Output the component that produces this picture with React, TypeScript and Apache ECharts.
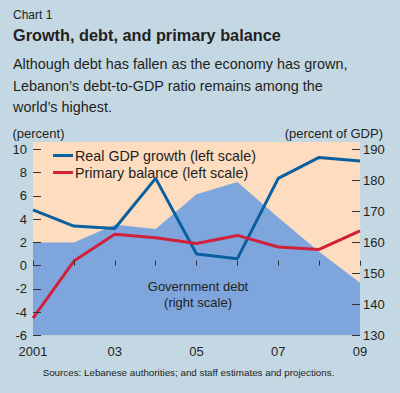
import React, { useEffect, useRef } from "react";
import * as echarts from "echarts";

const years = ["2001", "2002", "2003", "2004", "2005", "2006", "2007", "2008", "2009"];
const xLabels = ["2001", "02", "03", "04", "05", "06", "07", "08", "09"];
const gdpGrowth = [4.8, 3.4, 3.2, 7.5, 1.0, 0.6, 7.5, 9.3, 9.0];
const primaryBalance = [-4.5, 0.4, 2.7, 2.4, 1.9, 2.6, 1.6, 1.4, 3.0];
const govDebt = [160, 160, 165.7, 164.3, 175.5, 179.5, 168, 157, 147];

const BG = "#c4d8e4";
const PEACH = "#fddcc0";
const AREA = "#7ea6dc";
const BLUE = "#0a5f9e";
const RED = "#d0203a";
const TXT = "#231f20";
const FONT = "'Liberation Sans', Arial, sans-serif";

export default function App() {
  const ref = useRef<HTMLDivElement>(null);
  useEffect(() => {
    if (!ref.current) return;
    const chart = echarts.init(ref.current, undefined, { renderer: "svg" });
    const gridLeft = 33;
    const gridRight = 360;
    const gridTop = 149.3;
    const gridBottom = 335.5;
    const txt = (text: string, x: number, y: number, size: number, opts: any = {}) => ({
      type: "text",
      x,
      y,
      z: 10,
      style: {
        text,
        fill: opts.fill || TXT,
        font: `${opts.bold ? "bold " : ""}${size}px ${FONT}`,
        textAlign: opts.align || "left",
        textVerticalAlign: "middle",
      },
    });
    chart.setOption({
      animation: false,
      backgroundColor: BG,
      textStyle: { fontFamily: FONT },
      grid: { left: gridLeft, right: 400 - gridRight, top: gridTop, bottom: 393 - gridBottom, containLabel: false },
      legend: {
        orient: "vertical",
        left: 48,
        top: 143.5,
        itemWidth: 20,
        itemHeight: 3,
        itemGap: 3,
        icon: "rect",
        textStyle: { fontSize: 14.3, color: TXT, lineHeight: 14, padding: [0, 0, 0, -3] },
        data: ["Real GDP growth (left scale)", "Primary balance (left scale)"],
      },
      graphic: [
        {
          type: "rect",
          z: -1,
          shape: { x: gridLeft, y: 142, width: gridRight - gridLeft, height: gridBottom - 142 },
          style: { fill: PEACH },
        },
        txt("Chart 1", 13, 15, 12),
        txt("Growth, debt, and primary balance", 13, 34.5, 16.3, { bold: true }),
        txt("Although debt has fallen as the economy has grown,", 13, 64, 14.4),
        txt("Lebanon’s debt-to-GDP ratio remains among the", 13, 85.6, 14.4),
        txt("world’s highest.", 13, 107, 14.4),
        txt("(percent)", 12.5, 133, 13),
        txt("(percent of GDP)", 383, 133.5, 13, { align: "right" }),
        txt("Government debt", 198, 286.6, 13, { align: "center" }),
        txt("(right scale)", 198, 302.8, 13, { align: "center" }),
        txt("Sources: Lebanese authorities; and staff estimates and projections.", 188.5, 372.2, 9.8, { align: "center" }),
      ],
      xAxis: {
        type: "category",
        data: years,
        boundaryGap: false,
        z: 5,
        axisLine: { show: false },
        axisTick: { show: true, inside: true, length: 5, interval: 0, lineStyle: { color: "#333" } },
        axisLabel: {
          interval: 1,
          margin: 9,
          fontSize: 13,
          color: TXT,
          formatter: (_v: string, i: number) => xLabels[i],
        },
        splitLine: { show: false },
      },
      yAxis: [
        {
          type: "value",
          min: -6,
          max: 10,
          interval: 2,
          z: 5,
          axisLine: { show: false },
          axisTick: { show: true, inside: true, length: 8, lineStyle: { color: "#333" } },
          axisLabel: { fontSize: 13, color: TXT, margin: 6 },
          splitLine: { show: false },
        },
        {
          type: "value",
          min: 130,
          max: 190,
          interval: 10,
          position: "right",
          z: 5,
          axisLine: { show: false },
          axisTick: { show: true, inside: true, length: 8, lineStyle: { color: "#333" } },
          axisLabel: { fontSize: 13, color: TXT, margin: 3 },
          splitLine: { show: false },
        },
      ],
      series: [
        {
          name: "Government debt (right scale)",
          type: "line",
          yAxisIndex: 1,
          data: govDebt,
          symbol: "none",
          lineStyle: { width: 0 },
          areaStyle: { color: AREA, opacity: 1, origin: "start" },
          z: 1,
        },
        {
          name: "Real GDP growth (left scale)",
          type: "line",
          data: gdpGrowth,
          symbol: "none",
          lineStyle: { color: BLUE, width: 3 },
          itemStyle: { color: BLUE },
          z: 3,
        },
        {
          name: "Primary balance (left scale)",
          type: "line",
          data: primaryBalance,
          symbol: "none",
          lineStyle: { color: RED, width: 3 },
          itemStyle: { color: RED },
          z: 3,
        },
      ],
    });
    return () => chart.dispose();
  }, []);
  return (
    <div
      ref={ref}
      style={{ position: "fixed", left: 0, top: 0, width: 400, height: 393 }}
    />
  );
}
